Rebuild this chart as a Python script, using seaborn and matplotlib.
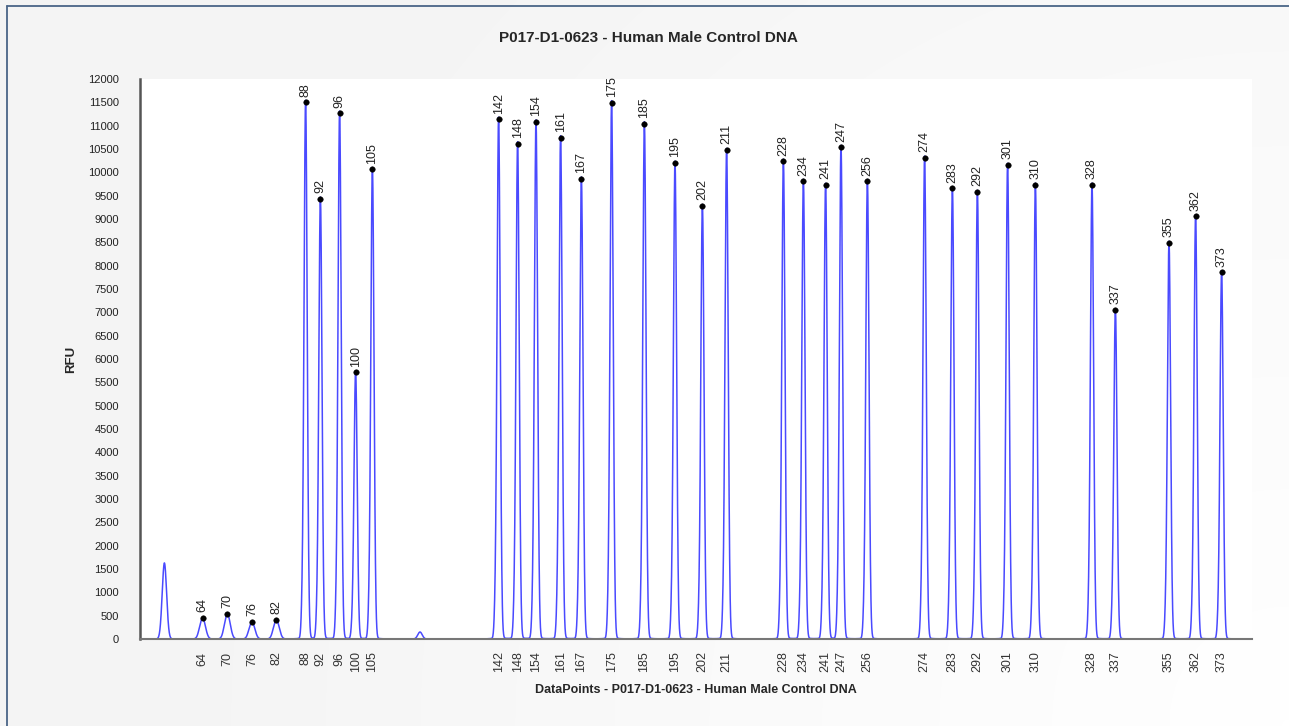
import numpy as np
import pandas as pd
import matplotlib
matplotlib.use("Agg")
import matplotlib.pyplot as plt
import seaborn as sns
from matplotlib.lines import Line2D

# ---- data ----
sizes = [64, 70, 76, 82, 88, 92, 96, 100, 105, 142, 148, 154, 161, 167, 175,
         185, 195, 202, 211, 228, 234, 241, 247, 256, 274, 283, 292, 301, 310,
         328, 337, 355, 362, 373]
datapoints = [1813, 1937, 2060, 2182, 2328, 2402, 2498, 2578, 2662, 3293, 3388,
              3480, 3603, 3707, 3858, 4022, 4175, 4312, 4433, 4717, 4817, 4928,
              5005, 5137, 5423, 5562, 5687, 5838, 5977, 6260, 6377, 6645, 6778,
              6908]
rfu = [450, 535, 365, 407, 11500, 9430, 11270, 5720, 10070, 11140, 10610,
       11080, 10740, 9860, 11490, 11040, 10200, 9280, 10480, 10240, 9810, 9730,
       10540, 9810, 10310, 9660, 9580, 10160, 9730, 9730, 7050, 8490, 9060, 7860]
# unlabeled peaks (primer / artefact)
extra_dp = [1622, 2900]
extra_rfu = [1630, 150]

# ---- trace ----
x = np.linspace(1545, 6985, 8000)
y = np.zeros_like(x)
for p, h in zip(datapoints, rfu):
    s = 14 if h < 1000 else 8
    y += h * np.exp(-0.5 * ((x - p) / s) ** 2)
    y += 0.03 * h * np.exp(-0.5 * ((x - p + 18) / 5) ** 2)
    y += 0.004 * h * np.exp(-np.abs(x - p) / 25)
for p, h in zip(extra_dp, extra_rfu):
    y += h * np.exp(-0.5 * ((x - p) / 11) ** 2)
trace = pd.DataFrame({"dp": x, "rfu": y})
peaks = pd.DataFrame({"dp": datapoints, "rfu": rfu, "size": sizes})

# ---- figure ----
sns.set_style("white")
plt.rcParams["font.family"] = ["Liberation Sans", "DejaVu Sans"]
fig = plt.figure(figsize=(12.89, 7.26), dpi=100, facecolor="#f6f6f6")

# soft radial background (white bottom-right, light grey elsewhere)
bg = fig.add_axes([0, 0, 1, 1], zorder=-10)
gx, gy = np.meshgrid(np.linspace(0, 1, 300), np.linspace(0, 1, 200))
dist = np.sqrt(((1 - gx) * 1.78) ** 2 + (gy) ** 2)
grad = np.clip(dist / 1.6, 0, 1)
bg.imshow(grad, cmap=matplotlib.colors.LinearSegmentedColormap.from_list(
    "g", ["#ffffff", "#fafafa", "#f4f4f4"]), aspect="auto",
    extent=[0, 1, 0, 1], origin="lower", interpolation="bilinear")
bg.axis("off")

ax = fig.add_axes([140 / 1289, 1 - 639 / 726, 1112 / 1289, 560 / 726])
ax.set_facecolor("white")

sns.lineplot(data=trace, x="dp", y="rfu", ax=ax, color="#2a2aff",
             linewidth=1.1, alpha=0.85)
sns.scatterplot(data=peaks, x="dp", y="rfu", ax=ax, color="black", s=16,
                edgecolor="black", zorder=5)
for _, r in peaks.iterrows():
    ax.annotate(str(int(r["size"])), (r["dp"], r["rfu"]), xytext=(0, 4),
                textcoords="offset points", rotation=90, ha="center",
                va="bottom", fontsize=9, color="#222222")

ax.set_xlim(1500, 7060)
ax.set_ylim(0, 12000)
ax.set_yticks(np.arange(0, 12001, 500))
ax.set_yticklabels([str(v) for v in range(0, 12001, 500)], fontsize=8,
                   color="#222222")
ax.set_xticks(datapoints)
ax.set_xticklabels([str(s) for s in sizes], rotation=90, fontsize=9,
                   color="#333333")
ax.tick_params(axis="y", length=12, width=1.5, color="#555555", pad=3)
ax.tick_params(axis="x", length=6, width=1, color="#777777", pad=3)
for side in ["top", "right"]:
    ax.spines[side].set_visible(False)
ax.spines["left"].set_color("#555555")
ax.spines["left"].set_linewidth(1.8)
ax.spines["bottom"].set_color("#777777")
ax.spines["bottom"].set_linewidth(1.5)

ax.set_xlabel("DataPoints - P017-D1-0623 - Human Male Control DNA",
              fontsize=9, fontweight="bold", labelpad=8)
ax.set_ylabel("RFU", fontsize=9.5, fontweight="bold", labelpad=8)
fig.text(648 / 1289, 1 - 38 / 726, "P017-D1-0623 - Human Male Control DNA",
         ha="center", va="center", fontsize=11, fontweight="bold")

# frame lines (left and top edges)
fig.lines.append(Line2D([6.5 / 1289, 6.5 / 1289], [0, 1 - 6 / 726],
                        transform=fig.transFigure, color="#4a6587",
                        linewidth=1.3))
fig.lines.append(Line2D([6.5 / 1289, 1], [1 - 6 / 726, 1 - 6 / 726],
                        transform=fig.transFigure, color="#4a6587",
                        linewidth=1.3))
fig.savefig("out.png", dpi=100, facecolor=fig.get_facecolor())
